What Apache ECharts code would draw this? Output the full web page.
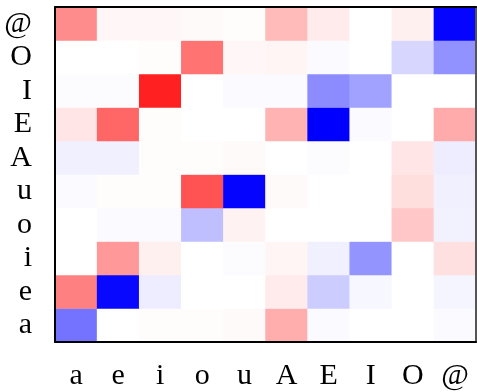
<!DOCTYPE html>
<html>
<head>
<meta charset="utf-8">
<script src="https://cdn.jsdelivr.net/npm/echarts@6/dist/echarts.min.js"></script>
<style>html,body{margin:0;padding:0;background:#fff;}#c{width:477px;height:392px;}</style>
</head>
<body>
<div id="c"></div>
<script>
// x categories (left to right), y categories (bottom to top)
const xLabels = ['a','e','i','o','u','A','E','I','O','@'];
const yLabels = ['a','e','i','o','u','A','E','I','O','@'];

// values per row, columns in xLabels order
const row_a  = [-0.55, 0.00, 0.01, 0.01, 0.02, 0.32, -0.02, 0.00, 0.00, -0.02];
const row_e  = [ 0.50, -0.97, -0.07, 0.00, 0.00, 0.08, -0.20, -0.03, 0.00, -0.04];
const row_i  = [ 0.00, 0.40, 0.06, 0.00, -0.01, 0.04, -0.06, -0.42, 0.00, 0.12];
const row_o  = [ 0.00, -0.02, -0.02, -0.25, 0.05, 0.00, 0.00, 0.00, 0.22, -0.05];
const row_u  = [-0.02, 0.01, 0.01, 0.68, -0.98, 0.02, 0.00, 0.00, 0.13, -0.06];
const row_A  = [-0.06, -0.06, 0.01, 0.01, 0.02, 0.00, -0.01, 0.00, 0.10, -0.07];
const row_E  = [ 0.10, 0.60, 0.01, 0.00, 0.00, 0.30, -1.00, -0.02, 0.00, 0.33];
const row_I  = [-0.01, -0.01, 0.87, 0.00, -0.02, -0.02, -0.45, -0.37, 0.00, 0.00];
const row_O  = [ 0.00, 0.00, 0.01, 0.55, 0.03, 0.04, -0.02, 0.00, -0.16, -0.43];
const row_at = [ 0.45, 0.03, 0.03, 0.02, 0.01, 0.27, 0.08, 0.00, 0.06, -0.98];

const rows = [row_a, row_e, row_i, row_o, row_u, row_A, row_E, row_I, row_O, row_at];
const data = [];
rows.forEach((r, yi) => r.forEach((v, xi) => data.push([xi, yi, v])));

const font = '"Liberation Serif", "DejaVu Serif", serif';
const chart = echarts.init(document.getElementById('c'), null, {renderer: 'canvas'});
chart.setOption({
  animation: false,
  backgroundColor: '#fff',
  grid: {left: 55, right: 1, top: 7, bottom: 50},
  xAxis: [
    {type: 'category', data: xLabels, position: 'bottom', z: 10,
     axisLine: {show: true, lineStyle: {color: '#000', width: 2}},
     axisTick: {show: false}, splitLine: {show: false},
     axisLabel: {interval: 0, fontFamily: font, fontSize: 30, color: '#000', margin: 19}},
    {type: 'category', data: xLabels, position: 'top', z: 10,
     axisLine: {show: true, lineStyle: {color: '#000', width: 2}},
     axisTick: {show: false}, axisLabel: {show: false}, splitLine: {show: false}}
  ],
  yAxis: [
    {type: 'category', data: yLabels, position: 'left', z: 10,
     axisLine: {show: true, lineStyle: {color: '#000', width: 2}},
     axisTick: {show: false}, splitLine: {show: false},
     axisLabel: {interval: 0, fontFamily: font, fontSize: 30, color: '#000', margin: 23}},
    {type: 'category', data: yLabels, position: 'right', z: 10,
     axisLine: {show: true, lineStyle: {color: '#555', width: 2}},
     axisTick: {show: false}, axisLabel: {show: false}, splitLine: {show: false}}
  ],
  visualMap: {
    show: false, type: 'continuous', min: -1, max: 1, dimension: 2,
    inRange: {color: ['#0000ff', '#ffffff', '#ff0000']}
  },
  series: [{
    type: 'heatmap', data: data, xAxisIndex: 0, yAxisIndex: 0,
    itemStyle: {borderWidth: 0},
    emphasis: {disabled: true}
  }]
});
</script>
</body>
</html>
